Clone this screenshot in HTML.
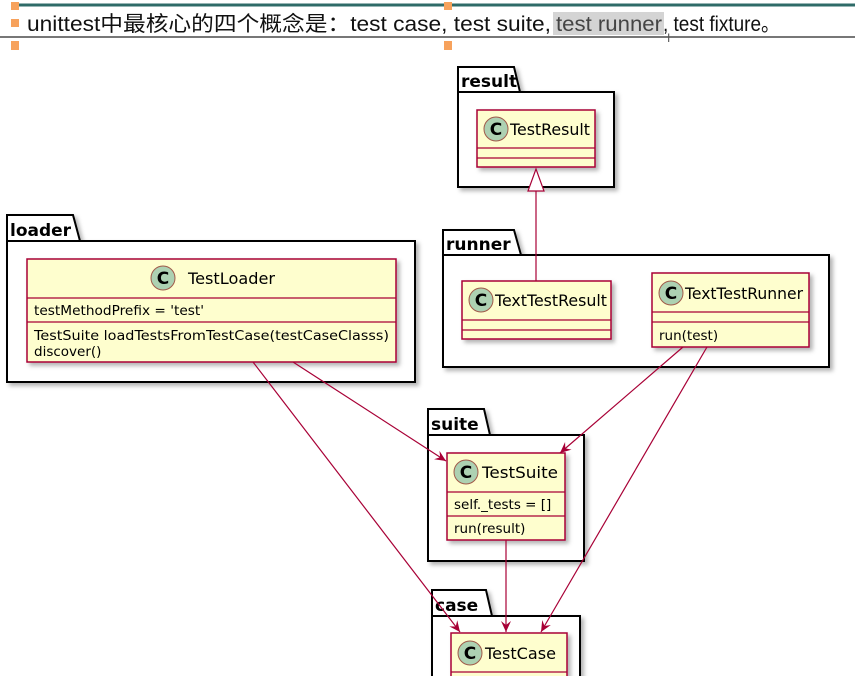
<!DOCTYPE html>
<html><head><meta charset="utf-8"><style>
html,body{margin:0;padding:0;background:#fff;}
body{width:855px;height:676px;overflow:hidden;position:relative;font-family:"Liberation Sans","Noto Sans CJK SC",sans-serif;}
</style></head><body>
<svg width="855" height="676" viewBox="0 0 855 676" xmlns="http://www.w3.org/2000/svg" style="position:absolute;left:0;top:0">
<defs>
<filter id="sh" x="-10%" y="-10%" width="130%" height="130%"><feDropShadow dx="3" dy="3" stdDeviation="2" flood-color="#000" flood-opacity="0.3"/></filter>
<marker id="ar" viewBox="0 0 12 12" refX="11" refY="6" markerWidth="12" markerHeight="12" markerUnits="userSpaceOnUse" orient="auto"><path d="M0,1 L11,6 L0,11 L4,6 Z" fill="#a80036"/></marker>
</defs>
<!-- header -->
<line x1="18" y1="5" x2="855" y2="5" stroke="#2f6b68" stroke-width="3"/>
<rect x="11" y="2" width="8" height="8" fill="#f7a25c"/>
<rect x="444" y="2" width="8" height="8" fill="#f7a25c"/>
<rect x="11" y="19" width="8" height="8" fill="#f7a25c"/>
<rect x="553" y="12" width="111" height="23" fill="#d4d4d4"/>
<g font-size="21" fill="#111" font-family="Liberation Sans,'Noto Sans CJK SC',sans-serif">
<text x="27" y="31" textLength="524" lengthAdjust="spacingAndGlyphs">unittest中最核心的四个概念是：test case, test suite,</text>
<text x="556" y="31" textLength="106" lengthAdjust="spacingAndGlyphs" fill="#444">test runner</text>
<text x="663" y="31" textLength="117" lengthAdjust="spacingAndGlyphs">, test fixture。</text>
</g>
<line x1="0" y1="37" x2="855" y2="37" stroke="#777" stroke-width="2"/>
<rect x="11" y="41" width="8" height="9" fill="#f7a25c"/>
<rect x="444" y="41" width="8" height="9" fill="#f7a25c"/>
<text x="667" y="42" font-size="12" fill="#555">I</text>

<g font-family="'DejaVu Sans',sans-serif">
<g fill="#fff" stroke="#000" stroke-width="2" filter="url(#sh)">
<path d="M458,92 L458,67 L514,67 L520,92 Z"/><rect x="458" y="92" width="156" height="95"/>
<path d="M443,255 L443,230 L514,230 L521,255 Z"/><rect x="443" y="255" width="386" height="112"/>
<path d="M7,241 L7,215 L73,215 L80,241 Z"/><rect x="7" y="241" width="408" height="141"/>
<path d="M428,435 L428,409 L484,409 L490,435 Z"/><rect x="428" y="435" width="156" height="126"/>
<path d="M432,616 L432,590 L486,590 L492,616 Z"/><rect x="432" y="616" width="148" height="70"/>
</g>
<g font-size="17" font-weight="bold" fill="#000">
<text x="461" y="87">result</text>
<text x="446" y="250">runner</text>
<text x="10" y="236">loader</text>
<text x="431" y="430">suite</text>
<text x="435" y="611">case</text>
</g>
<g fill="#fefece" stroke="#a80036" stroke-width="1.5" filter="url(#sh)">
<rect x="477" y="110" width="118" height="57"/>
<rect x="462" y="281" width="149" height="58"/>
<rect x="652" y="273" width="157" height="74"/>
<rect x="27" y="259" width="369" height="103"/>
<rect x="447" y="453" width="118" height="87"/>
<rect x="451" y="633" width="116" height="60"/>
</g>
<g stroke="#a80036" stroke-width="1.2">
<line x1="477" y1="148" x2="595" y2="148"/><line x1="477" y1="158" x2="595" y2="158"/>
<line x1="462" y1="320" x2="611" y2="320"/><line x1="462" y1="330" x2="611" y2="330"/>
<line x1="652" y1="312" x2="809" y2="312"/><line x1="652" y1="322" x2="809" y2="322"/>
<line x1="27" y1="298" x2="396" y2="298"/><line x1="27" y1="322" x2="396" y2="322"/>
<line x1="447" y1="492" x2="565" y2="492"/><line x1="447" y1="516" x2="565" y2="516"/>
<line x1="451" y1="672" x2="567" y2="672"/>
</g>
<g fill="#add1b2" stroke="#a05a4a" stroke-width="1">
<circle cx="496" cy="129" r="12"/>
<circle cx="481" cy="300" r="12"/>
<circle cx="671" cy="293" r="12"/>
<circle cx="163" cy="278" r="12"/>
<circle cx="466" cy="472" r="12"/>
<circle cx="470" cy="653" r="12"/>
</g>
<g font-size="17" font-weight="bold" fill="#000" text-anchor="middle">
<text x="496" y="135">C</text><text x="481" y="306">C</text><text x="671" y="299">C</text>
<text x="163" y="284">C</text><text x="466" y="478">C</text><text x="470" y="659">C</text>
</g>
<g font-size="16" fill="#000">
<text x="510" y="135" textLength="80" lengthAdjust="spacingAndGlyphs">TestResult</text>
<text x="495" y="306" textLength="112" lengthAdjust="spacingAndGlyphs">TextTestResult</text>
<text x="685" y="299" textLength="118" lengthAdjust="spacingAndGlyphs">TextTestRunner</text>
<text x="188" y="284" textLength="87" lengthAdjust="spacingAndGlyphs">TestLoader</text>
<text x="482" y="478" textLength="76" lengthAdjust="spacingAndGlyphs">TestSuite</text>
<text x="485" y="659" textLength="71" lengthAdjust="spacingAndGlyphs">TestCase</text>
</g>
<g font-size="13.5" fill="#000">
<text x="34" y="315" textLength="170" lengthAdjust="spacingAndGlyphs">testMethodPrefix = 'test'</text>
<text x="34" y="340" textLength="355" lengthAdjust="spacingAndGlyphs">TestSuite loadTestsFromTestCase(testCaseClasss)</text>
<text x="34" y="356">discover()</text>
<text x="659" y="340">run(test)</text>
<text x="454" y="509">self._tests = []</text>
<text x="454" y="533">run(result)</text>
</g>
</g>
<g stroke="#a80036" stroke-width="1.2" fill="none">
<line x1="536" y1="281" x2="536" y2="191"/>
<path d="M528,191 L544,191 L536,169 Z" fill="#fff"/>
<line x1="253" y1="362" x2="460" y2="632" marker-end="url(#ar)"/>
<line x1="293" y1="362" x2="446" y2="461" marker-end="url(#ar)"/>
<line x1="683" y1="347" x2="560" y2="453" marker-end="url(#ar)"/>
<line x1="707" y1="347" x2="541" y2="632" marker-end="url(#ar)"/>
<line x1="506" y1="540" x2="506" y2="632" marker-end="url(#ar)"/>
</g>
</svg>
</body></html>
